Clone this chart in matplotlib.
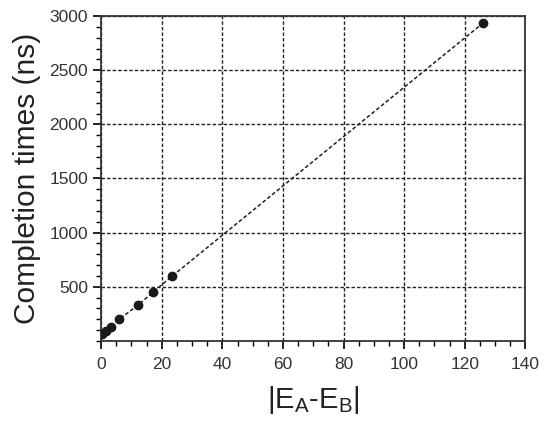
import numpy as np
import matplotlib
matplotlib.use('Agg')
import matplotlib.pyplot as plt
from matplotlib.ticker import MultipleLocator

# data
energy_diff = [0.2, 1.5, 3.2, 6.0, 12.3, 17.0, 23.3, 126.0]
completion_ns = [62, 95, 130, 200, 333, 447, 595, 2935]
x_ticks = [0, 20, 40, 60, 80, 100, 120, 140]
y_ticks = [500, 1000, 1500, 2000, 2500, 3000]

plt.rcParams['font.family'] = ['Liberation Sans', 'DejaVu Sans']

fig = plt.figure(figsize=(5.5, 4.26), dpi=100)
ax = fig.add_axes([0.184, 0.2, 0.771, 0.762])

ax.plot(energy_diff, completion_ns, color='#222222', linestyle=(0, (2.5, 1.5)), linewidth=1.1,
        marker='o', markersize=6, markerfacecolor='#1a1a1a', markeredgecolor='#1a1a1a', zorder=3)

ax.set_xlim(0, 140)
ax.set_ylim(0, 3000)
ax.set_xticks(x_ticks)
ax.set_yticks(y_ticks)
ax.xaxis.set_minor_locator(MultipleLocator(5))
ax.yaxis.set_minor_locator(MultipleLocator(100))

ax.grid(True, which='major', color='#222222', linestyle=(0, (2.5, 1.5)), linewidth=1.0)
ax.tick_params(which='major', direction='out', length=6, width=1.2, labelsize=12.5,
               labelcolor='#333333', top=False, right=False)
ax.tick_params(which='minor', direction='out', length=3.5, width=1.0, top=False, right=False)
ax.tick_params(axis='x', pad=6)
for s in ax.spines.values():
    s.set_linewidth(1.3)
    s.set_color('#333333')

ax.set_ylabel('Completion times (ns)', fontsize=21.5, color='#222222', labelpad=6)
ax.set_xlabel(r'|E$_\mathregular{A}$-E$_\mathregular{B}$|', fontsize=21, color='#222222', labelpad=8)

plt.savefig('out.png', dpi=100)
